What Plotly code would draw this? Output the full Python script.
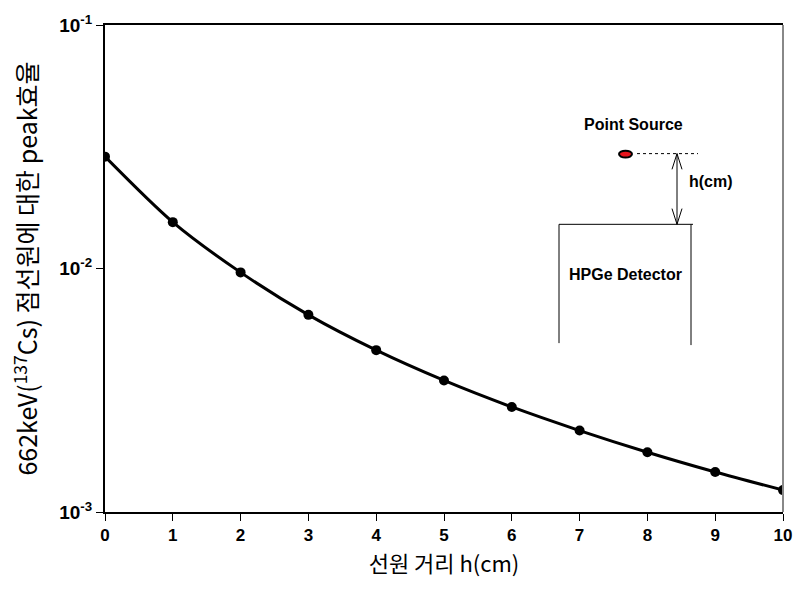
import plotly.graph_objects as go

distance_cm = [0, 1, 2, 3, 4, 5, 6, 7, 8, 9, 10]
peak_efficiency = [0.0288, 0.0155, 0.00964, 0.00645, 0.00462, 0.00347,
                   0.00270, 0.00216, 0.00176, 0.00146, 0.00123]
x_ticks = [0, 1, 2, 3, 4, 5, 6, 7, 8, 9, 10]
y_tick_vals = [0.1, 0.01, 0.001]
y_tick_text = ["<b>10<sup>-1</sup></b>", "<b>10<sup>-2</sup></b>", "<b>10<sup>-3</sup></b>"]

W, H = 807, 590
L, R, T, B = 105, 24, 16, 78
PW, PH = W - L - R, H - T - B


def px(x):
    return (x - L) / PW


def py(y):
    return (H - B - y) / PH


fig = go.Figure()
fig.add_trace(go.Scatter(
    x=distance_cm, y=peak_efficiency, mode="lines+markers",
    line=dict(color="black", width=3, shape="spline", smoothing=0.8),
    marker=dict(color="black", size=10),
    showlegend=False,
))

shapes = []
shapes.append(dict(type="line", xref="paper", yref="paper", x0=1, x1=1, y0=0, y1=1,
                   line=dict(color="#888888", width=2)))
shapes.append(dict(type="circle", xref="paper", yref="paper",
                   x0=px(619), x1=px(632), y0=py(151), y1=py(144),
                   fillcolor="#e8141c", line=dict(color="black", width=2)))
shapes.append(dict(type="line", xref="paper", yref="paper",
                   x0=px(637), x1=px(698), y0=py(147), y1=py(147),
                   line=dict(color="black", width=1, dash="dot")))
shapes.append(dict(type="line", xref="paper", yref="paper",
                   x0=px(677), x1=px(677), y0=py(147), y1=py(219),
                   line=dict(color="black", width=1)))
shapes.append(dict(type="path", xref="paper", yref="paper",
                   path=f"M {px(672)},{py(163)} L {px(677)},{py(147)} L {px(682)},{py(163)}",
                   line=dict(color="black", width=1)))
shapes.append(dict(type="path", xref="paper", yref="paper",
                   path=f"M {px(672)},{py(203)} L {px(677)},{py(219)} L {px(682)},{py(203)}",
                   line=dict(color="black", width=1)))
shapes.append(dict(type="path", xref="paper", yref="paper",
                   path=f"M {px(559)},{py(340)} L {px(559)},{py(219)} L {px(693)},{py(219)}",
                   line=dict(color="black", width=1)))
shapes.append(dict(type="line", xref="paper", yref="paper",
                   x0=px(691), x1=px(691), y0=py(219), y1=py(342),
                   line=dict(color="black", width=1)))

annot_font = dict(family="Liberation Sans, Arial", size=16, color="black")
annotations = [
    dict(text="<b>Point Source</b>", x=px(633), y=py(117), xref="paper", yref="paper",
         xanchor="center", yanchor="middle", showarrow=False, font=annot_font),
    dict(text="<b>h(cm)</b>", x=px(687), y=py(175), xref="paper", yref="paper",
         xanchor="left", yanchor="middle", showarrow=False, font=annot_font),
    dict(text="<b>HPGe Detector</b>", x=px(625), y=py(270), xref="paper", yref="paper",
         xanchor="center", yanchor="middle", showarrow=False, font=annot_font),
]

fig.update_layout(
    width=W, height=H,
    margin=dict(l=L, r=R, t=T, b=B),
    paper_bgcolor="white", plot_bgcolor="white",
    shapes=shapes, annotations=annotations,
    xaxis=dict(
        range=[0, 10], tickvals=x_ticks,
        ticktext=[f"<b>{v}</b>" for v in x_ticks],
        ticks="outside", ticklen=7, tickcolor="black",
        showline=True, linecolor="black", linewidth=2, mirror=True,
        showgrid=False, zeroline=False,
        tickfont=dict(family="Liberation Sans, Arial", size=17, color="black"),
        title=dict(text="선원 거리 h(cm)", standoff=12,
                   font=dict(family="Noto Sans CJK KR", size=22, color="black")),
    ),
    yaxis=dict(
        type="log", range=[-3, -1], tickvals=y_tick_vals, ticktext=y_tick_text,
        ticks="outside", ticklen=7, tickcolor="black",
        showline=True, linecolor="black", linewidth=2,
        showgrid=False, zeroline=False,
        tickfont=dict(family="Liberation Sans, Arial", size=19, color="black"),
        title=dict(text="662keV(<sup>137</sup>Cs) 점선원에 대한 peak효율", standoff=14,
                   font=dict(family="Noto Sans CJK KR", size=25, color="black")),
    ),
)

fig.write_html("out.html")
